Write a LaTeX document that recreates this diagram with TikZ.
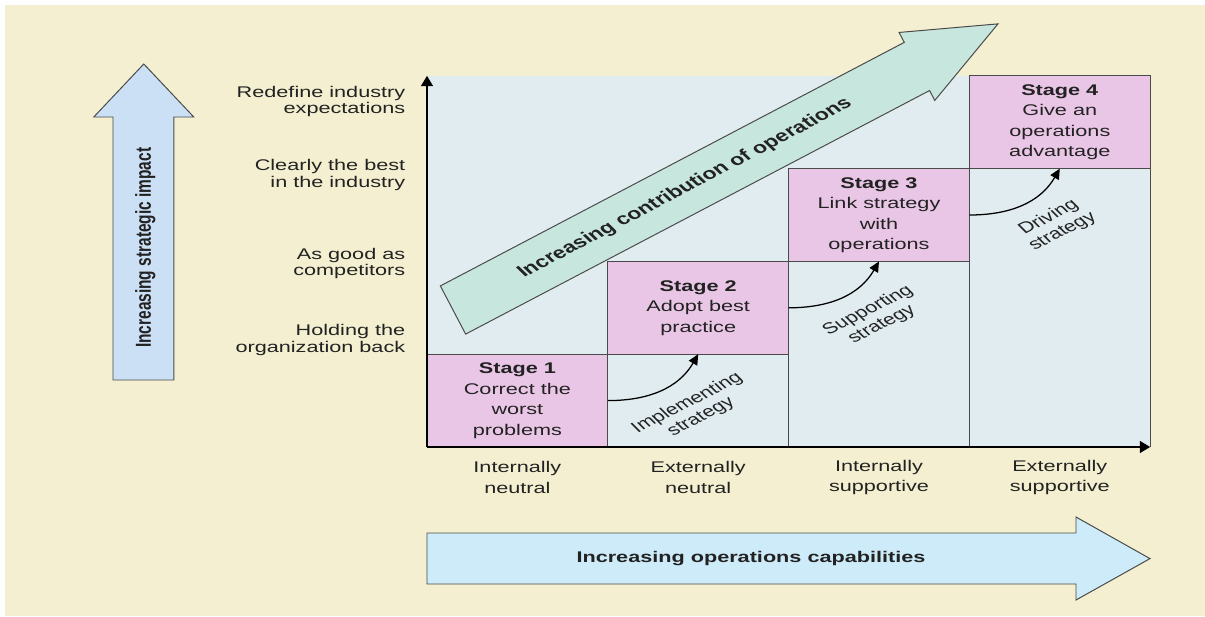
\documentclass[tikz,border=0pt]{standalone}
\usepackage{fontspec}
\setmainfont{Liberation Sans}[FakeStretch=1.4]
\newfontfamily\plainsans{Liberation Sans}
\usepackage{xcolor}
\usepackage{tikz}
\usetikzlibrary{positioning}
\usetikzlibrary{arrows.meta}

\definecolor{crema}{HTML}{F3EFD0}
\definecolor{fondo}{HTML}{E1ECF0}
\definecolor{rosa}{HTML}{E9C6E6}
\definecolor{menta}{HTML}{C7E6DD}
\definecolor{celeste}{HTML}{CCE0F5}
\definecolor{cielo}{HTML}{CDEBF8}
\definecolor{borde}{HTML}{4A4A4A}
\definecolor{tinta}{HTML}{222222}

\tikzset{
  stagebox/.style={draw=borde, fill=rosa, line width=0.7pt, minimum width=4.52cm,
    minimum height=2.32cm, inner sep=0pt, outer sep=0pt, align=center,
    text=tinta, font=\fontsize{11}{14.6}\selectfont},
  levellbl/.style={anchor=east, align=right, text=tinta, font=\fontsize{11}{11.9}\selectfont},
  capalbl/.style={align=center, text=tinta, font=\fontsize{11}{14.6}\selectfont},
  % texto girado: fuente normal, ensanchada despues del giro
  curvelbl/.style={xscale=1.4, rotate=35.5, align=center, text=tinta,
    font=\plainsans\fontsize{11}{12.1}\selectfont},
  biglbl/.style={text=tinta, font=\bfseries\fontsize{11}{12.1}\selectfont},
  tiltlbl/.style={xscale=1.4, rotate=#1, text=tinta,
    font=\plainsans\bfseries\fontsize{11}{12.1}\selectfont},
  fatarrow/.style={draw=borde, line width=0.7pt, line join=miter},
  climb/.style={-{Triangle[length=2.6mm,width=2.4mm]}, line width=0.9pt},
  axis/.style={-{Triangle[length=2.6mm,width=3mm]}, line width=1pt},
  gridline/.style={draw=borde, line width=0.7pt}
}

\begin{document}
\begin{tikzpicture}
  \useasboundingbox (-10.675,-4.225) rectangle (19.45,11.175);
  % Fondo
  \fill[crema] (-10.55,-4.225) rectangle (19.45,11.05);
  \coordinate (O) at (0,0);
  \fill[fondo] (O) rectangle (18.08,9.28);

  % Flecha diagonal
  \begin{scope}[shift={(0.65,3.425)}, rotate=27.7]
    \draw[fatarrow, fill=menta] (0,-0.68) -- (13.1,-0.68) -- (13.1,-0.96) -- (15.39,0)
      -- (13.1,0.96) -- (13.1,0.68) -- (0,0.68) -- cycle;
    \coordinate (mid) at (6.55,0);
  \end{scope}
  \node[tiltlbl=36.3, font=\plainsans\bfseries\fontsize{11.7}{12.1}\selectfont] (contrib) at (mid)
    {Increasing contribution of operations};

  % Etapas
  \node[stagebox, anchor=south west] (s1) at (O) {\textbf{Stage 1}\\Correct the\\worst\\problems};
  \node[stagebox, above right=0cm of s1] (s2) {\textbf{Stage 2}\\Adopt best\\practice};
  \node[stagebox, above right=0cm of s2] (s3) {\textbf{Stage 3}\\Link strategy\\with\\operations};
  \node[stagebox, above right=0cm of s3] (s4) {\textbf{Stage 4}\\Give an\\operations\\advantage};

  % Columnas bajo cada etapa
  \foreach \s in {s2,s3,s4} {
    \draw[gridline] (\s.south west) -- (\s.south west |- O);
    \draw[gridline] (\s.south east) -- (\s.south east |- O);
  }

  % Ejes
  \coordinate (ytop) at (0,9.28);
  \coordinate (xend) at (18.08,0);
  \draw[axis] (O) -- (ytop);
  \draw[axis] (O) -- (xend);

  % Flechas entre etapas
  \draw[climb] (s1.east) to[out=0, in=-120] (s2.south);
  \draw[climb] (s2.east) to[out=0, in=-120] (s3.south);
  \draw[climb] (s3.east) to[out=0, in=-120] (s4.south);
  \node[curvelbl] (impl) at ([shift={(-0.1,-1.4)}]s2.south) {Implementing\\strategy};
  \node[curvelbl] (supp) at ([shift={(-0.1,-1.4)}]s3.south) {Supporting\\strategy};
  \node[curvelbl] (driv) at ([shift={(-0.1,-1.4)}]s4.south) {Driving\\strategy};

  % Niveles (eje vertical)
  \node[levellbl] (lv1) at (-0.42,2.675) {Holding the\\organization back};
  \node[levellbl] (lv2) at (-0.42,4.59) {As good as\\competitors};
  \node[levellbl] (lv3) at (-0.42,6.8) {Clearly the best\\in the industry};
  \node[levellbl] (lv4) at (-0.42,8.64) {Redefine industry\\expectations};

  % Capacidades (eje horizontal)
  \node[capalbl] (cap1) at (2.26,-0.76) {Internally\\neutral};
  \node[capalbl] (cap2) at (6.78,-0.76) {Externally\\neutral};
  \node[capalbl] (cap3) at (11.3,-0.76) {Internally\\supportive};
  \node[capalbl] (cap4) at (15.82,-0.76) {Externally\\supportive};

  % Flecha vertical izquierda
  \draw[fatarrow, fill=celeste] (-7.85,1.675) -- (-7.85,8.25) -- (-8.33,8.25) -- (-7.08,9.575)
    -- (-5.83,8.25) -- (-6.33,8.25) -- (-6.33,1.675) -- cycle;
  \node[tiltlbl=90] (impact) at (-7.04,4.98) {Increasing strategic impact};

  % Flecha horizontal inferior
  \draw[fatarrow, fill=cielo] (0,-2.15) -- (16.225,-2.15) -- (16.225,-1.75) -- (18.075,-2.79)
    -- (16.225,-3.825) -- (16.225,-3.425) -- (0,-3.425) -- cycle;
  \node[biglbl] (capab) at (8.1,-2.79) {Increasing operations capabilities};
\end{tikzpicture}
\end{document}
